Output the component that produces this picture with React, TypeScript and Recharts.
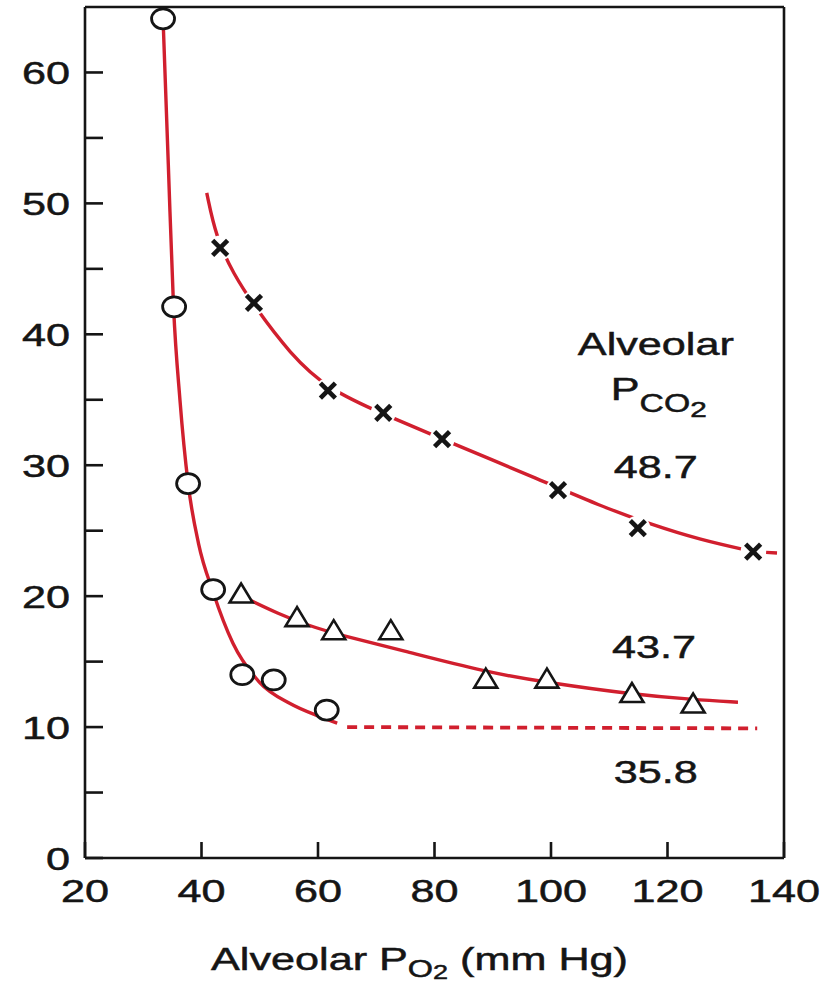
import React from 'react';
import { ComposedChart, Line, Scatter, XAxis, YAxis, ReferenceDot } from 'recharts';

// Ejes
const xTicks = [20, 40, 60, 80, 100, 120, 140];
const topTicks = [40, 60, 80, 100, 120];
const yTicks = [0, 5, 10, 15, 20, 25, 30, 35, 40, 45, 50, 55, 60];
const rightTicks = [7.3, 20, 30, 40, 50, 60];

// Puntos medidos (PCO2 alveolar 35.8, 43.7, 48.7)
const circles = [
  { x: 33.4, y: 64.1 },
  { x: 35.3, y: 42.1 },
  { x: 37.7, y: 28.6 },
  { x: 42.0, y: 20.5 },
  { x: 47.0, y: 14.0 },
  { x: 52.4, y: 13.6 },
  { x: 61.5, y: 11.3 },
];
const triangles = [
  { x: 46.8, y: 20.2 },
  { x: 56.4, y: 18.4 },
  { x: 62.7, y: 17.4 },
  { x: 72.5, y: 17.4 },
  { x: 88.8, y: 13.7 },
  { x: 99.3, y: 13.7 },
  { x: 113.9, y: 12.6 },
  { x: 124.4, y: 11.8 },
];
const crosses = [
  { x: 43.2, y: 46.6 },
  { x: 49.0, y: 42.4 },
  { x: 61.7, y: 35.7 },
  { x: 71.2, y: 34.0 },
  { x: 81.3, y: 32.0 },
  { x: 101.2, y: 28.1 },
  { x: 114.9, y: 25.2 },
  { x: 134.7, y: 23.4 },
];

// Curvas ajustadas
const curve358 = [
  { x: 33.4, y: 64.1 },
  { x: 34.3, y: 53.0 },
  { x: 35.2, y: 42.1 },
  { x: 36.3, y: 35.0 },
  { x: 37.7, y: 28.6 },
  { x: 39.5, y: 24.0 },
  { x: 42.0, y: 20.3 },
  { x: 45.4, y: 16.4 },
  { x: 50.0, y: 13.4 },
  { x: 55.2, y: 11.8 },
  { x: 60.3, y: 10.8 },
  { x: 63.3, y: 10.3 },
];
const dashed358 = [
  { x: 65.0, y: 10.0 },
  { x: 135.4, y: 9.9 },
];
const curve437 = [
  { x: 48.3, y: 19.7 },
  { x: 53.0, y: 18.7 },
  { x: 58.0, y: 17.8 },
  { x: 64.0, y: 17.0 },
  { x: 74.1, y: 15.9 },
  { x: 88.8, y: 14.2 },
  { x: 99.3, y: 13.4 },
  { x: 113.9, y: 12.5 },
  { x: 124.4, y: 12.1 },
  { x: 132.1, y: 11.9 },
];
const curve487 = [
  { x: 40.9, y: 50.8 },
  { x: 42.5, y: 47.4 },
  { x: 45.5, y: 44.6 },
  { x: 49.0, y: 42.2 },
  { x: 55.2, y: 38.5 },
  { x: 61.7, y: 35.8 },
  { x: 71.2, y: 33.9 },
  { x: 81.3, y: 32.0 },
  { x: 98.6, y: 28.8 },
  { x: 108.4, y: 26.9 },
  { x: 117.0, y: 25.5 },
  { x: 125.6, y: 24.3 },
  { x: 134.7, y: 23.4 },
];
const tail487 = [
  { x: 134.7, y: 23.4 },
  { x: 138.8, y: 23.3 },
];

// Rótulos dentro del gráfico
const notes = [
  { x: 118.0, y: 38.4, text: 'Alveolar' },
  { x: 118.5, y: 35.0, text: 'P', sub: 'CO', sub2: '2' },
  { x: 118.0, y: 29.0, text: '48.7' },
  { x: 117.7, y: 15.3, text: '43.7' },
  { x: 118.0, y: 5.7, text: '35.8' },
];

const RED = '#d11f2e';
const INK = '#151515';
const FONT = '"Liberation Sans", Arial, Helvetica, sans-serif';
const STRETCH = 1.35;

const textStyle = { fontSize: 32, fill: INK, fontFamily: FONT, stroke: INK, strokeWidth: 0.5 };

const LeftTick = (props: any) => {
  const { x, y, payload } = props;
  if (payload.value % 10 !== 0) return <g />;
  return (
    <text transform={`translate(${x},${y}) scale(${STRETCH},1)`} textAnchor="end" dy="0.36em" {...textStyle}>
      {payload.value}
    </text>
  );
};

const BottomTick = (props: any) => {
  const { x, y, payload } = props;
  return (
    <text transform={`translate(${x},${y}) scale(${STRETCH},1)`} textAnchor="middle" {...textStyle}>
      {payload.value}
    </text>
  );
};

const XTitle = (props: any) => {
  const vb = props.viewBox || { x: 85, y: 858, width: 699 };
  const cx = vb.x + vb.width / 2 - 15;
  const cy = vb.y + 112;
  return (
    <text transform={`translate(${cx},${cy}) scale(${STRETCH},1)`} textAnchor="middle" {...textStyle}>
      Alveolar P
      <tspan fontSize={24} dy={7}>O</tspan>
      <tspan fontSize={20} dy={2}>2</tspan>
      <tspan fontSize={32} dy={-9}> (mm Hg)</tspan>
    </text>
  );
};

const Note = (n: any) => (props: any) => (
  <text transform={`translate(${props.cx},${props.cy}) scale(${STRETCH},1)`} textAnchor="middle" {...textStyle}>
    {n.text}
    {n.sub && <tspan fontSize={25} dy={12}>{n.sub}</tspan>}
    {n.sub2 && <tspan fontSize={22} dy={5}>{n.sub2}</tspan>}
  </text>
);

const CircleMark = (props: any) => (
  <ellipse cx={props.cx} cy={props.cy} rx={11.5} ry={10} fill="#fff" stroke={INK} strokeWidth={2.8} />
);

const TriangleMark = (props: any) => {
  const { cx, cy } = props;
  return (
    <polygon points={`${cx},${cy - 10} ${cx - 11.5},${cy + 9} ${cx + 11.5},${cy + 9}`}
      fill="#fff" stroke={INK} strokeWidth={2.6} />
  );
};

const CrossMark = (props: any) => {
  const { cx, cy } = props;
  const s = 7.5;
  return (
    <g>
      <circle cx={cx} cy={cy} r={12.5} fill="#fff" />
      <line x1={cx - s} y1={cy - s} x2={cx + s} y2={cy + s} stroke={INK} strokeWidth={4.6} />
      <line x1={cx - s} y1={cy + s} x2={cx + s} y2={cy - s} stroke={INK} strokeWidth={4.6} />
    </g>
  );
};

const axisStyle = { stroke: INK, strokeWidth: 2.6 };

export default function App() {
  return (
    <div style={{ width: 821, height: 985, background: '#fff' }}>
      <style>{'body{margin:0}'}</style>
      <ComposedChart width={821} height={985} margin={{ top: 2, right: 32, bottom: 67, left: 0 }}>
        <XAxis xAxisId="b" dataKey="x" type="number" domain={[20, 140]} ticks={xTicks}
          allowDataOverflow height={60} axisLine={axisStyle} tickLine={axisStyle}
          tickSize={-16} tickMargin={60} tick={<BottomTick />} interval={0}
          label={{ content: XTitle }} />
        <XAxis xAxisId="t" orientation="top" type="number" domain={[20, 140]} ticks={topTicks}
          allowDataOverflow height={5} axisLine={axisStyle} tickLine={axisStyle}
          tickSize={-20} tick={false} interval={0} />
        <YAxis yAxisId="l" dataKey="y" type="number" domain={[0, 65]} ticks={yTicks}
          allowDataOverflow width={85} axisLine={axisStyle} tickLine={axisStyle}
          tickSize={-18} tickMargin={33} tick={<LeftTick />} interval={0} />
        <YAxis yAxisId="r" orientation="right" type="number" domain={[0, 65]} ticks={rightTicks}
          allowDataOverflow width={5} axisLine={axisStyle} tickLine={axisStyle}
          tickSize={-20} tick={false} interval={0} />

        <Line xAxisId="b" yAxisId="l" data={curve358} dataKey="y" type="monotone" stroke={RED}
          strokeWidth={3.4} dot={false} isAnimationActive={false} />
        <Line xAxisId="b" yAxisId="l" data={dashed358} dataKey="y" type="linear" stroke={RED}
          strokeWidth={3.8} strokeDasharray="10 7" dot={false} isAnimationActive={false} />
        <Line xAxisId="b" yAxisId="l" data={curve437} dataKey="y" type="basis" stroke={RED}
          strokeWidth={3.4} dot={false} isAnimationActive={false} />
        <Line xAxisId="b" yAxisId="l" data={curve487} dataKey="y" type="basis" stroke={RED}
          strokeWidth={3.4} dot={false} isAnimationActive={false} />
        <Line xAxisId="b" yAxisId="l" data={tail487} dataKey="y" type="linear" stroke={RED}
          strokeWidth={3.4} strokeDasharray="0 13 11 20" dot={false} isAnimationActive={false} />

        <Scatter xAxisId="b" yAxisId="l" data={circles} dataKey="y" shape={CircleMark} isAnimationActive={false} />
        <Scatter xAxisId="b" yAxisId="l" data={triangles} dataKey="y" shape={TriangleMark} isAnimationActive={false} />
        <Scatter xAxisId="b" yAxisId="l" data={crosses} dataKey="y" shape={CrossMark} isAnimationActive={false} />

        {notes.map((n, i) => (
          <ReferenceDot key={i} xAxisId="b" yAxisId="l" x={n.x} y={n.y} r={0}
            ifOverflow="visible" shape={Note(n)} />
        ))}
      </ComposedChart>
    </div>
  );
}
